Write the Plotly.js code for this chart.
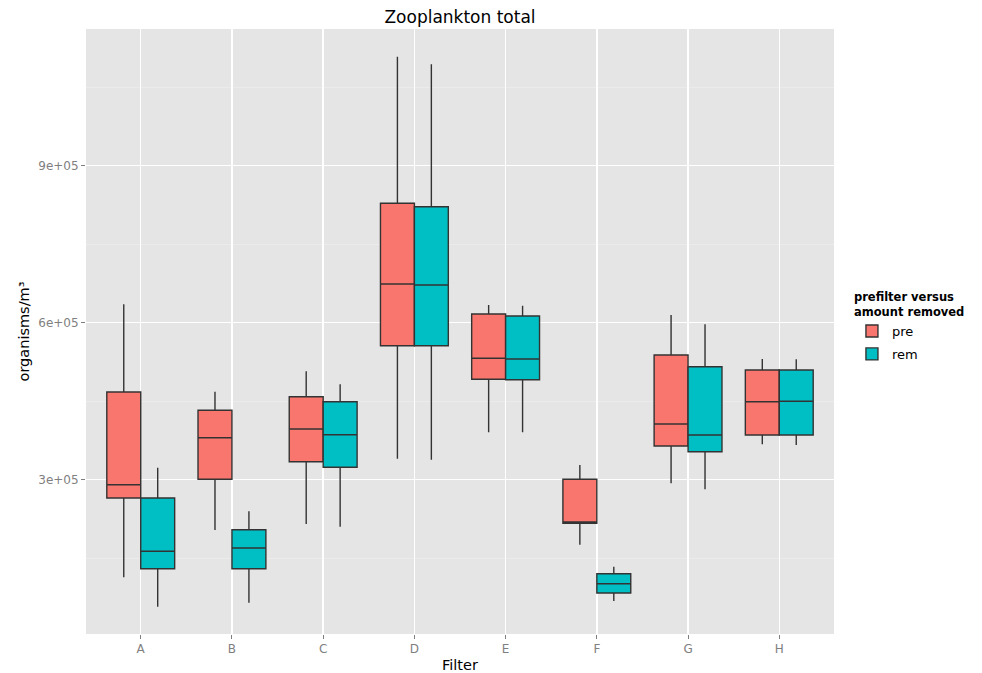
<!DOCTYPE html>
<html>
<head>
<meta charset="utf-8">
<script src="https://cdn.plot.ly/plotly-3.0.1.min.js"></script>
<style>html,body{margin:0;padding:0;background:#fff;}#chart{width:982px;height:673px;}</style>
</head>
<body>
<div id="chart"></div>
<script>
// Categories (Filter)
const filters = ['A','B','C','D','E','F','G','H'];

// "pre" series box statistics
const preLower  = [113500, 203900, 215300, 340100, 390600, 175800, 293100, 367600];
const preQ1     = [265000, 300800, 334400, 556000, 491800, 216700, 364400, 385400];
const preMedian = [290400, 380200, 396900, 673900, 532000, 219200, 406400, 449000];
const preQ3     = [467600, 432600, 458600, 828100, 616600, 300800, 538300, 509600];
const preUpper  = [635100, 468100, 507100, 1108000, 633800, 328100, 614700, 530600];

// "rem" series box statistics
const remLower  = [57300, 65000, 210200, 338200, 390600, 68200, 281700, 366300];
const remQ1     = [129900, 129900, 323700, 556000, 491100, 83500, 353500, 385400];
const remMedian = [163200, 169500, 386000, 672000, 530600, 101300, 385400, 449800];
const remQ3     = [265000, 204500, 449000, 821600, 612800, 120400, 515900, 509600];
const remUpper  = [322900, 239600, 482300, 1093700, 632500, 133800, 596900, 530000];

// Axis tick labels
const yTickVals = [300000, 600000, 900000];
const yTickText = ['3e+05', '6e+05', '9e+05'];

const FONT = 'DejaVu Sans, Liberation Sans, sans-serif';
const lineCol = '#333333';

const traces = [
  {
    type: 'box', name: 'pre', x: filters, legendgroup: 'pre',
    q1: preQ1, median: preMedian, q3: preQ3,
    lowerfence: preLower, upperfence: preUpper,
    fillcolor: '#F8766D', line: {color: lineCol, width: 1.4},
    whiskerwidth: 0, boxpoints: false, hoverinfo: 'none'
  },
  {
    type: 'box', name: 'rem', x: filters, legendgroup: 'rem',
    q1: remQ1, median: remMedian, q3: remQ3,
    lowerfence: remLower, upperfence: remUpper,
    fillcolor: '#00BFC4', line: {color: lineCol, width: 1.4},
    whiskerwidth: 0, boxpoints: false, hoverinfo: 'none'
  }
];

const layout = {
  width: 982, height: 673,
  margin: {l: 86, r: 148, t: 29, b: 39},
  paper_bgcolor: '#ffffff',
  plot_bgcolor: '#e5e5e5',
  font: {family: FONT, color: '#000'},
  title: {
    text: 'Zooplankton total',
    font: {family: FONT, size: 17, color: '#000'},
    x: 0.5, xref: 'paper', xanchor: 'center',
    y: 1 - 17/673, yref: 'container', yanchor: 'middle'
  },
  boxmode: 'group', boxgap: 0.256, boxgroupgap: 0,
  xaxis: {
    type: 'category', range: [-0.6, 7.6],
    showgrid: true, gridcolor: '#ffffff', gridwidth: 1.5,
    zeroline: false, showline: false,
    ticks: 'outside', ticklen: 4, tickcolor: '#7f7f7f', tickwidth: 1,
    tickfont: {family: FONT, size: 12, color: '#7f7f7f'},
    title: {text: 'Filter', font: {family: FONT, size: 14.5, color: '#000'}, standoff: 4},
    automargin: false, fixedrange: true
  },
  yaxis: {
    range: [5160, 1161200],
    tickmode: 'array', tickvals: yTickVals, ticktext: yTickText,
    showgrid: true, gridcolor: '#ffffff', gridwidth: 1.5,
    minor: {dtick: 300000, tick0: 150000, showgrid: true, gridcolor: '#ececec', gridwidth: 0.8, ticklen: 0},
    zeroline: false, showline: false,
    ticks: 'outside', ticklen: 4, tickcolor: '#7f7f7f', tickwidth: 1,
    tickfont: {family: FONT, size: 12, color: '#7f7f7f'},
    title: {text: 'organisms/m³', font: {family: FONT, size: 14.5, color: '#000'}, standoff: 5},
    automargin: false, fixedrange: true
  },
  showlegend: true,
  legend: {
    x: 1.024, xanchor: 'left', y: 0.575, yanchor: 'top',
    bgcolor: 'rgba(0,0,0,0)',
    title: {text: '<b>prefilter versus<br>amount removed</b>', font: {family: FONT, size: 11.5, color: '#000'}},
    font: {family: FONT, size: 13, color: '#000'},
    tracegroupgap: 3,
    itemwidth: 30
  }
};

Plotly.newPlot('chart', traces, layout, {displayModeBar: false, staticPlot: true});
</script>
</body>
</html>
